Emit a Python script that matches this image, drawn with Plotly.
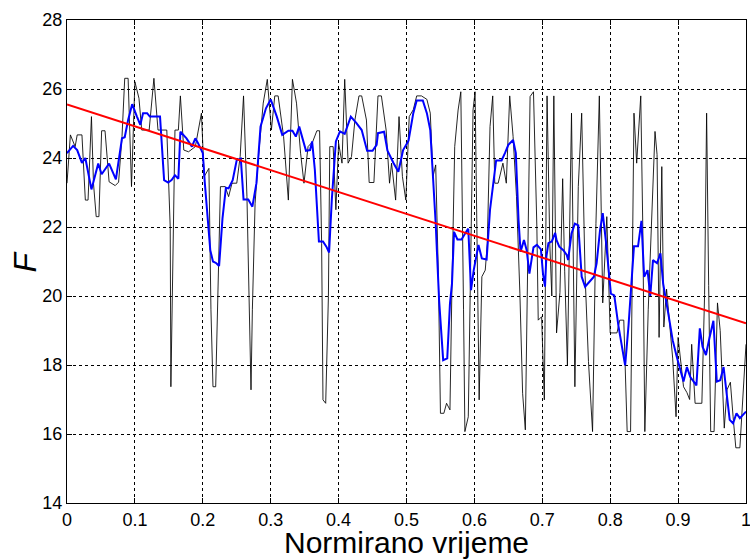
import plotly.graph_objects as go

# Raw signal F (black)
t_raw = [0.000, 0.005, 0.012, 0.015, 0.022, 0.027, 0.031, 0.036, 0.039, 0.043, 0.047, 0.051, 0.056, 0.062,
         0.071, 0.076, 0.081, 0.085, 0.090, 0.095, 0.100, 0.106, 0.110, 0.121, 0.128, 0.134, 0.147, 0.152,
         0.153, 0.157, 0.159, 0.164, 0.167, 0.172, 0.179, 0.189, 0.198, 0.202, 0.209, 0.212, 0.215, 0.219,
         0.223, 0.226, 0.233, 0.238, 0.243, 0.250, 0.255, 0.260, 0.265, 0.268, 0.271, 0.273, 0.277, 0.282,
         0.289, 0.295, 0.301, 0.306, 0.311, 0.319, 0.326, 0.332, 0.338, 0.344, 0.349, 0.355, 0.362, 0.368,
         0.372, 0.375, 0.377, 0.381, 0.385, 0.387, 0.392, 0.396, 0.400, 0.405, 0.409, 0.414, 0.419, 0.424,
         0.430, 0.434, 0.441, 0.445, 0.452, 0.458, 0.463, 0.470, 0.475, 0.478, 0.484, 0.489, 0.494, 0.499,
         0.504, 0.510, 0.515, 0.522, 0.530, 0.535, 0.539, 0.543, 0.547, 0.550, 0.555, 0.559, 0.564, 0.567,
         0.571, 0.576, 0.580, 0.584, 0.586, 0.591, 0.595, 0.598, 0.601, 0.604, 0.607, 0.611, 0.616, 0.619,
         0.623, 0.627, 0.630, 0.635, 0.642, 0.647, 0.652, 0.657, 0.662, 0.667, 0.671, 0.675, 0.682, 0.687,
         0.692, 0.694, 0.699, 0.703, 0.707, 0.711, 0.714, 0.717, 0.721, 0.726, 0.730, 0.733, 0.737, 0.743,
         0.748, 0.753, 0.758, 0.763, 0.768, 0.774, 0.779, 0.784, 0.789, 0.795, 0.800, 0.810, 0.814, 0.820,
         0.825, 0.830, 0.835, 0.839, 0.842, 0.845, 0.848, 0.851, 0.856, 0.861, 0.866, 0.869, 0.872, 0.876,
         0.879, 0.883, 0.888, 0.892, 0.897, 0.900, 0.908, 0.913, 0.917, 0.920, 0.925, 0.935, 0.939, 0.942,
         0.945, 0.948, 0.953, 0.958, 0.962, 0.968, 0.972, 0.977, 0.981, 0.985, 0.991, 0.994, 1.000]
f_raw = [23.27, 24.67, 24.33, 24.67, 24.67, 22.78, 22.78, 25.20, 23.27, 22.30, 22.30, 24.79, 24.79, 23.31,
         23.20, 23.30, 24.62, 26.31, 26.31, 23.17, 26.21, 25.73, 24.81, 24.81, 26.31, 24.81, 24.81, 22.00,
         17.37, 21.90, 24.81, 24.81, 25.80, 24.23, 24.18, 24.33, 25.30, 23.46, 23.70, 19.60, 17.37, 17.37,
         20.85, 23.17, 23.17, 22.88, 23.27, 23.27, 24.04, 25.80, 22.88, 19.60, 17.28, 19.60, 22.69, 24.04,
         25.59, 26.28, 24.81, 25.80, 25.80, 24.62, 22.78, 26.28, 25.59, 24.14, 23.27, 24.33, 24.48, 24.79,
         24.79, 21.53, 16.99, 16.89, 19.99, 24.33, 24.33, 22.50, 24.43, 23.85, 26.28, 23.85, 24.04, 25.10,
         25.80, 25.80, 25.10, 23.29, 23.29, 25.80, 25.80, 24.81, 23.27, 23.85, 22.78, 25.20, 23.46, 22.78,
         25.20, 25.40, 25.80, 25.80, 25.70, 25.30, 23.46, 23.80, 20.56, 16.60, 16.60, 16.89, 16.70, 20.36,
         24.33, 25.39, 25.92, 19.60, 16.07, 16.50, 21.53, 25.39, 25.92, 21.53, 16.99, 20.56, 20.75, 21.53,
         24.91, 25.80, 23.27, 23.27, 23.85, 23.27, 25.80, 24.62, 22.88, 20.08, 17.18, 16.12, 25.78, 25.92,
         22.00, 19.30, 19.40, 16.99, 25.80, 21.53, 20.00, 25.80, 18.93, 20.10, 23.40, 20.70, 18.00, 25.30,
         17.37, 23.17, 25.30, 20.60, 18.10, 16.07, 22.10, 25.80, 19.80, 22.30, 18.93, 18.93, 19.30, 19.30,
         16.07, 16.07, 25.30, 23.85, 24.90, 25.80, 22.00, 16.07, 19.60, 22.50, 24.77, 24.10, 18.80, 23.75,
         19.10, 20.20, 19.20, 18.20, 16.50, 18.80, 17.37, 17.20, 17.00, 18.60, 16.89, 16.89, 20.04, 25.30,
         20.30, 16.07, 16.07, 19.80, 19.00, 16.17, 17.28, 17.50, 16.50, 15.60, 15.60, 16.60, 18.60]

# Smoothed signal (blue)
t_smooth = [0.000, 0.009, 0.015, 0.022, 0.027, 0.036, 0.046, 0.051, 0.062, 0.072, 0.081, 0.085, 0.090, 0.096,
            0.103, 0.108, 0.112, 0.118, 0.122, 0.137, 0.143, 0.149, 0.154, 0.159, 0.164, 0.167, 0.176, 0.184,
            0.189, 0.193, 0.200, 0.203, 0.211, 0.215, 0.220, 0.224, 0.229, 0.234, 0.238, 0.244, 0.250, 0.256,
            0.260, 0.267, 0.273, 0.279, 0.285, 0.293, 0.300, 0.309, 0.317, 0.326, 0.332, 0.337, 0.342, 0.347,
            0.352, 0.358, 0.361, 0.365, 0.371, 0.377, 0.382, 0.386, 0.390, 0.396, 0.402, 0.409, 0.418, 0.426,
            0.434, 0.442, 0.450, 0.456, 0.458, 0.467, 0.472, 0.481, 0.488, 0.495, 0.503, 0.510, 0.515, 0.524,
            0.530, 0.535, 0.539, 0.543, 0.548, 0.554, 0.560, 0.564, 0.567, 0.570, 0.575, 0.581, 0.589, 0.591,
            0.595, 0.599, 0.606, 0.611, 0.618, 0.623, 0.632, 0.640, 0.645, 0.650, 0.657, 0.661, 0.665, 0.668,
            0.673, 0.677, 0.681, 0.687, 0.692, 0.698, 0.701, 0.704, 0.706, 0.709, 0.714, 0.719, 0.721, 0.725,
            0.731, 0.736, 0.738, 0.743, 0.748, 0.753, 0.758, 0.763, 0.776, 0.780, 0.785, 0.789, 0.794, 0.801,
            0.806, 0.812, 0.822, 0.827, 0.835, 0.841, 0.846, 0.850, 0.855, 0.859, 0.863, 0.869, 0.874, 0.878,
            0.886, 0.892, 0.898, 0.903, 0.908, 0.913, 0.918, 0.927, 0.932, 0.936, 0.941, 0.946, 0.952, 0.957,
            0.962, 0.967, 0.972, 0.976, 0.981, 0.986, 0.991, 1.000]
f_smooth = [24.14, 24.35, 24.23, 23.86, 24.00, 23.09, 23.84, 23.53, 23.84, 23.38, 24.57, 24.60, 25.10, 25.56,
            25.20, 24.96, 25.30, 25.30, 25.20, 25.20, 23.36, 23.29, 23.36, 23.50, 23.40, 24.76, 24.57, 24.33,
            24.57, 24.43, 24.14, 23.27, 21.33, 21.00, 20.95, 20.87, 22.25, 23.14, 23.12, 23.36, 23.94, 23.98,
            22.80, 22.80, 22.59, 23.27, 24.91, 25.44, 25.70, 25.20, 24.67, 24.79, 24.79, 24.62, 24.91, 24.52,
            24.21, 24.23, 24.48, 23.66, 21.58, 21.58, 21.43, 21.26, 22.79, 24.48, 24.77, 24.70, 25.20, 25.02,
            24.81, 24.21, 24.21, 24.38, 24.72, 24.76, 24.21, 23.85, 23.60, 24.23, 24.50, 25.30, 25.67, 25.67,
            25.30, 24.81, 23.46, 22.10, 19.88, 18.14, 18.19, 19.78, 20.36, 21.86, 21.64, 21.64, 21.90, 21.95,
            20.17, 20.75, 21.48, 21.09, 21.06, 22.50, 23.93, 23.93, 24.14, 24.38, 24.52, 24.14, 22.20, 21.28,
            21.62, 21.33, 20.65, 21.41, 21.48, 21.35, 20.65, 20.27, 21.14, 21.53, 21.58, 21.83, 21.62, 21.43,
            21.33, 21.19, 21.04, 21.81, 22.10, 22.05, 20.56, 20.27, 20.56, 20.95, 21.90, 22.40, 21.53, 20.07,
            20.02, 19.15, 17.99, 19.15, 21.44, 21.44, 22.18, 20.56, 20.75, 20.00, 21.04, 20.95, 21.24, 20.36,
            19.44, 18.72, 18.24, 17.90, 17.52, 17.94, 17.65, 17.41, 19.06, 18.53, 18.29, 18.77, 19.28, 17.52,
            17.56, 17.94, 17.18, 16.41, 16.31, 16.60, 16.46, 16.65]

# Linear trend (red)
t_trend = [0.0, 1.0]
f_trend = [25.55, 19.21]

x_ticks = [0, 0.1, 0.2, 0.3, 0.4, 0.5, 0.6, 0.7, 0.8, 0.9, 1]
x_ticktext = ["0", "0.1", "0.2", "0.3", "0.4", "0.5", "0.6", "0.7", "0.8", "0.9", "1"]
y_ticks = [14, 16, 18, 20, 22, 24, 26, 28]
x_title = "Normirano vrijeme"
y_title = "<i>F</i>"

FONT = "Liberation Sans, Arial, sans-serif"

fig = go.Figure()
fig.add_trace(go.Scatter(x=t_raw, y=f_raw, mode="lines",
                         line=dict(color="rgba(0,0,0,0.85)", width=1), showlegend=False))
fig.add_trace(go.Scatter(x=t_smooth, y=f_smooth, mode="lines",
                         line=dict(color="#0000FF", width=2), showlegend=False))
fig.add_trace(go.Scatter(x=t_trend, y=f_trend, mode="lines",
                         line=dict(color="#FF0000", width=2), showlegend=False))

axis_common = dict(
    showline=True, linecolor="black", linewidth=1, mirror="allticks",
    ticks="inside", ticklen=5, tickcolor="black",
    showgrid=True, gridcolor="black", gridwidth=1, griddash="3px,3px",
    zeroline=False, automargin=False, ticklabeloverflow="allow",
    tickfont=dict(family=FONT, size=18, color="black"),
)

fig.update_layout(
    width=750, height=559,
    margin=dict(l=67, r=4, t=20, b=56),
    paper_bgcolor="white", plot_bgcolor="white",
    xaxis=dict(range=[0, 1], tickvals=x_ticks, ticktext=x_ticktext, **axis_common),
    yaxis=dict(range=[14, 28], tickvals=y_ticks, **axis_common),
    annotations=[
        dict(text=x_title, xref="paper", yref="paper", x=0.5, y=0, xanchor="center", yanchor="top",
             yshift=-21, showarrow=False, font=dict(family=FONT, size=30, color="black")),
        dict(text=y_title, xref="paper", yref="paper", x=0, y=0.5, xanchor="center", yanchor="middle",
             xshift=-43, textangle=-90, showarrow=False, font=dict(family=FONT, size=32, color="black")),
    ],
)

# remove the default page margin so the 750x559 figure fills the window exactly
fig.write_html("out.html", config={"displayModeBar": False},
               post_script="document.body.style.margin='0';document.body.style.overflow='hidden';")
